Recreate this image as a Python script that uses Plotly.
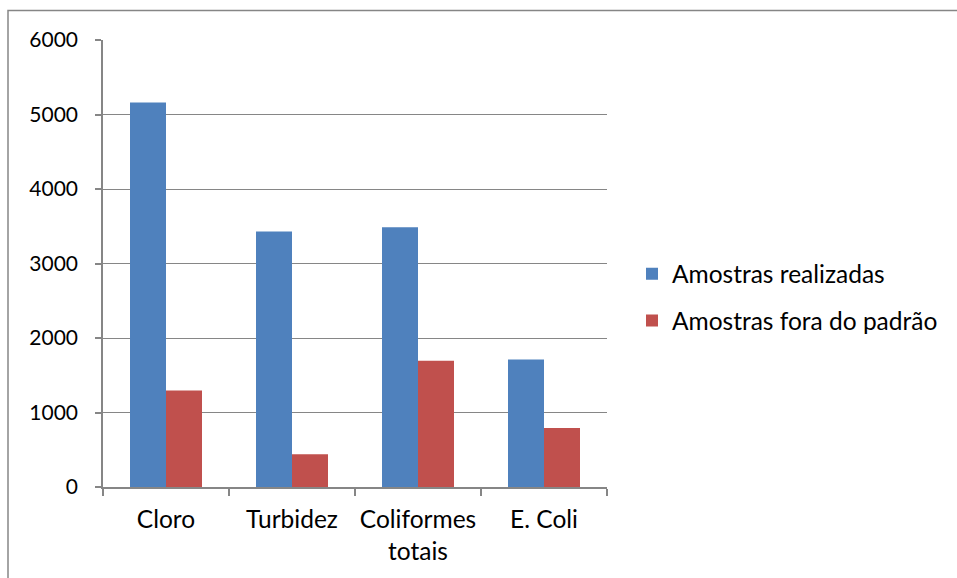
import plotly.graph_objects as go

# Water-quality sampling summary
categorias = ["Cloro", "Turbidez", "Coliformes<br>totais", "E. Coli"]
amostras_realizadas = [5160, 3430, 3485, 1712]
amostras_fora_padrao = [1295, 440, 1695, 792]
y_ticks = [0, 1000, 2000, 3000, 4000, 5000, 6000]

AZUL = "#4F81BD"
VERMELHO = "#C0504D"
CINZA = "#868686"
FAMILIA = "Lato, Carlito, Calibri, sans-serif"
FONTE = dict(family=FAMILIA, size=24.5, color="#000000")
FONTE_Y = dict(family=FAMILIA, size=21, color="#000000")

fig = go.Figure()
fig.add_trace(go.Bar(
    x=categorias, y=amostras_realizadas, name="Amostras realizadas",
    marker=dict(color=AZUL, line=dict(width=0)), legendgroup="a",
))
fig.add_trace(go.Bar(
    x=categorias, y=amostras_fora_padrao, name="Amostras fora do padrão",
    marker=dict(color=VERMELHO, line=dict(width=0)), legendgroup="b",
))

W, H = 957, 578
L, R, T, B = 103, 607, 39.5, 487
pw, ph = R - L, B - T

fig.update_layout(
    width=W, height=H,
    margin=dict(l=L, r=W - R, t=T, b=H - B, pad=0),
    paper_bgcolor="white", plot_bgcolor="white",
    barmode="group", bargap=1.5 / 3.5, bargroupgap=0,
    font=FONTE,
    showlegend=True,
    legend=dict(
        x=(632 - L) / pw, y=(B - 297) / ph, xanchor="left", yanchor="middle",
        font=FONTE, tracegroupgap=12, bgcolor="rgba(0,0,0,0)",
        itemwidth=30,
    ),
    xaxis=dict(
        showgrid=False, showline=True, linecolor=CINZA, linewidth=1.5,
        ticks="outside", tickson="boundaries", ticklen=7, tickcolor=CINZA, tickwidth=1.5,
        tickfont=FONTE, ticklabelstandoff=10,
    ),
    yaxis=dict(
        range=[0, 6000], tickvals=y_ticks, showgrid=True, gridcolor=CINZA, gridwidth=1.2,
        showline=True, linecolor=CINZA, linewidth=1.5, zeroline=False,
        ticks="outside", ticklen=6, tickcolor=CINZA, tickwidth=1.5,
        tickfont=FONTE_Y, ticklabelstandoff=13,
    ),
    shapes=[
        # chart-area border
        dict(type="rect", xref="paper", yref="paper",
             x0=(8 - L) / pw, x1=(W + 20 - L) / pw,
             y0=(B - (H + 20)) / ph, y1=(B - 10) / ph,
             line=dict(color=CINZA, width=1.5), fillcolor="rgba(0,0,0,0)", layer="below"),
    ],
)

fig.write_html("out.html")
